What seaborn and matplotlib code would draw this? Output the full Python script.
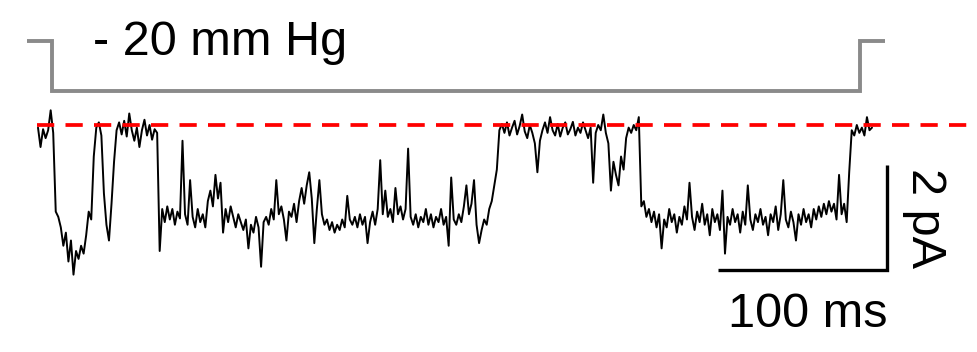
import numpy as np
import pandas as pd
import matplotlib
matplotlib.use("Agg")
import matplotlib.pyplot as plt
import seaborn as sns

# ---------------- data ----------------
SAMPLE_MS = 1.5  # sampling interval of the trace (ms)

# current (pA), segment by segment
cur_start = [-0.05, -0.42, -0.08, -0.25, -0.1, 0.28, -0.15,
             -1.65, -1.75, -1.95, -2.3, -2.05, -2.6, -2.2,
             -2.85, -2.4, -2.55, -2.3, -2.45, -2.1, -1.65, -1.8,
             -0.6, -0.05, 0.05, -0.2, -1.3, -1.9, -2.2, -1.5, -0.7, -0.1,
             0.05, -0.18, 0.08, -0.22, 0.22, -0.1, -0.3, -0.05, -0.42, -0.1,
             0.1, -0.2, 0.0, -0.28, -0.08,
             -0.15, -2.4]
cur_open1 = [-1.6, -1.85, -1.55, -1.8, -1.6, -1.9, -1.65, -1.78,
             -0.3, -1.7, -1.9, -1.05, -1.75, -1.95, -1.6, -1.85, -1.7, -1.95,
             -1.45, -1.25, -1.55, -0.95, -1.4, -1.1, -2.05, -1.6, -1.85, -1.55,
             -1.75, -1.95, -1.7, -1.85, -2.0, -1.8, -2.35, -1.9, -2.05, -1.75,
             -1.95, -2.7, -1.85, -1.75, -1.9, -1.6, -1.8, -1.05, -1.7, -1.55,
             -1.8, -2.2, -1.65, -1.75, -1.5, -1.85, -1.45, -1.2, -1.5, -1.15,
             -0.9, -1.4, -2.25, -1.6, -1.05, -1.7, -1.9, -1.8, -2.0, -1.85,
             -2.05, -1.9, -2.0, -1.8, -1.95, -1.35, -1.8, -1.9, -1.75, -1.95,
             -1.7, -1.9, -1.75, -2.25, -1.85, -1.65, -1.9, -1.6, -0.67, -1.7,
             -1.25, -1.75, -1.6, -1.85, -1.2, -1.7, -1.55, -1.8, -1.6, -0.45,
             -1.75, -1.9, -1.7, -1.95, -1.75, -1.85, -1.6, -1.9, -1.7, -1.95,
             -1.75, -1.85, -1.6, -1.9, -1.75, -2.3, -1.0, -1.8, -1.9, -1.7,
             -1.85, -1.55, -1.15, -1.7, -1.5, -1.05, -1.9, -2.25, -2.0, -1.8,
             -1.9, -1.6, -1.45, -1.15, -0.85, -0.1]
cur_closed = [0.02, -0.15, 0.05, -0.2, -0.05, 0.08, -0.18, -0.02, 0.2, -0.12,
              -0.25, 0.0, -0.15, -0.35, -0.9, -0.3, -0.1, 0.05, -0.15, 0.15,
              -0.1, -0.2, 0.02, -0.22, -0.05, 0.05, -0.18, -0.08, 0.06, -0.2,
              -0.05, -0.15, 0.05, -0.1, -0.25, -0.05, -1.1, -0.15, 0.0, -0.1,
              0.2, -0.15, -0.35, -1.25, -0.7, -0.95, -1.15, -0.6, -0.85, -0.25,
              -0.05, -0.15, 0.0, -0.1, 0.15]
cur_open2 = [-1.55, -1.45, -1.75, -1.6, -1.85, -1.65, -1.95, -1.7, -2.35, -1.8,
             -1.95, -1.6, -1.85, -1.7, -2.05, -1.75, -1.9, -1.55, -1.8, -1.1,
             -1.75, -2.0, -1.65, -1.85, -1.5, -1.9, -1.7, -2.1, -1.6, -1.85,
             -1.7, -2.0, -1.25, -2.45, -1.75, -1.9, -1.6, -1.85, -1.7, -2.05,
             -1.65, -1.9, -1.15, -1.8, -2.0, -1.7, -1.85, -1.6, -1.9, -1.75,
             -2.1, -1.7, -1.85, -1.55, -2.0, -1.7, -1.05, -1.8, -1.95, -1.65,
             -1.85, -2.2, -1.7, -1.9, -1.6, -1.85, -1.7, -1.95, -1.6, -1.8,
             -1.55, -1.75, -1.5, -1.7, -1.45, -1.65, -1.5, -1.8, -0.95, -1.7,
             -1.5, -1.85]
cur_end = [-0.9, -0.1, -0.2, 0.0, -0.15, -0.05, -0.2, 0.15, -0.1, -0.05]

# pressure protocol (mmHg) vs time (ms)
press_t = [-6.5, 8.3, 8.3, 486.4, 486.4, 501.2]
press_mmHg = [0, 0, -20, -20, 0, 0]
press_label = "- 20 mm Hg"

# scale bar
sb_ms = 100
sb_pA = 2
sb_t0 = 402.4
sb_i0 = -2.76
sb_labels = ("100 ms", "2 pA")

current = np.array(cur_start + cur_open1 + cur_closed + cur_open2 + cur_end)
time_ms = np.arange(len(current)) * SAMPLE_MS
df = pd.DataFrame({"t": time_ms, "I": current})

# ---------------- figure ----------------
sns.set_style("white")
plt.rcParams["font.family"] = ["Liberation Sans", "DejaVu Sans"]

W, H = 977, 352
fig = plt.figure(figsize=(W / 100, H / 100), dpi=100)
ax = fig.add_axes([0, 0, 1, 1])
PX_PER_MS = 1.69
PX_PER_PA = 52.5
X0, Y0 = 38, 125
ax.set_xlim(-X0 / PX_PER_MS, (W - X0) / PX_PER_MS)
ax.set_ylim(-(H - Y0) / PX_PER_PA, Y0 / PX_PER_PA)
ax.axis("off")

sns.lineplot(data=df, x="t", y="I", ax=ax, color="black", linewidth=1.4,
             sort=False, estimator=None, zorder=2)

# baseline (closed level)
ax.plot([-0.6, (W - X0) / PX_PER_MS], [0, 0], color="#ff0000", linewidth=2.7,
        dashes=(4.6, 3.0), zorder=3)

# scale bar
ax.plot([sb_t0, sb_t0 + sb_ms, sb_t0 + sb_ms],
        [sb_i0, sb_i0, sb_i0 + sb_pA], color="black", linewidth=2.4,
        solid_joinstyle="miter", solid_capstyle="butt")

# pressure protocol on its own axes
ax2 = fig.add_axes([0, 0, 1, 1])
ax2.set_xlim(ax.get_xlim())
ax2.set_ylim(-124.4, 16.4)
ax2.axis("off")
ax2.patch.set_alpha(0)
ax2.plot(press_t, press_mmHg, color="#8a8a8a", linewidth=2.8,
         solid_joinstyle="miter", solid_capstyle="butt")

# texts
fig.text(93 / W, 1 - 55 / H, press_label, fontsize=35, ha="left",
         va="baseline", color="black")
fig.text(808 / W, 1 - 327 / H, sb_labels[0], fontsize=35, ha="center",
         va="baseline", color="black")
fig.text(924 / W, 1 - 218 / H, sb_labels[1], fontsize=35, ha="center",
         va="center", rotation=-90, color="black")

fig.savefig("out.png", dpi=100)
